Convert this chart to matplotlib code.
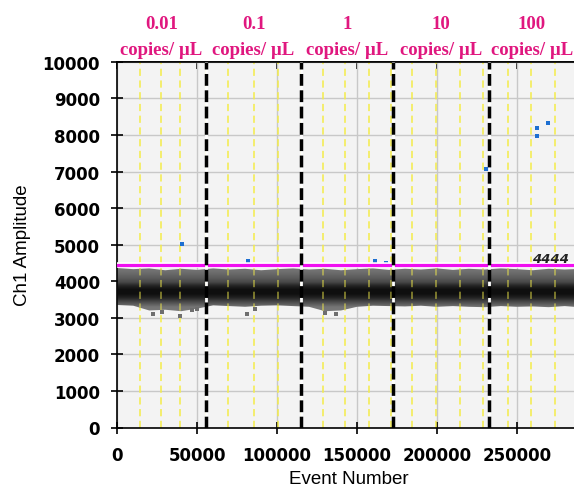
import numpy as np
import matplotlib
matplotlib.use('Agg')
import matplotlib.pyplot as plt
from matplotlib.transforms import blended_transform_factory
import matplotlib.patheffects as pe

# ---------------- data ----------------
conc_labels = ['0.01', '0.1', '1', '10', '100']
unit_label = 'copies/ µL'
group_bounds = [0, 55400, 115100, 172600, 232900, 285800]
well_lines = [14200, 27300, 39200, 55400, 69200, 85400, 100400, 115100, 128600, 142300,
              157300, 171000, 184200, 199200, 214200, 228600, 244200, 259200, 273600]
threshold = 4444
threshold_text = '4444'

band_x = [0, 10000, 20000, 30000, 40000, 50000, 60000, 70000, 80000, 90000, 100000,
          110000, 120000, 130000, 140000, 150000, 160000, 170000, 180000, 190000, 200000,
          210000, 220000, 230000, 240000, 250000, 260000, 270000, 280000, 285800]
band_upper = [4360, 4330, 4350, 4300, 4340, 4310, 4350, 4320, 4340, 4300, 4330,
              4350, 4320, 4340, 4300, 4330, 4350, 4310, 4340, 4320, 4350,
              4310, 4340, 4320, 4350, 4330, 4300, 4340, 4320, 4330]
band_lower = [3350, 3330, 3200, 3220, 3180, 3250, 3340, 3320, 3300, 3330, 3340,
              3320, 3300, 3180, 3200, 3300, 3330, 3320, 3310, 3330, 3300,
              3320, 3300, 3290, 3320, 3300, 3310, 3290, 3320, 3300]

neg_x = [22400, 28000, 39200, 46700, 50000, 81200, 86200, 130000, 137000]
neg_y = [3110, 3164, 3055, 3219, 3247, 3110, 3247, 3120, 3100]

pos_x = [40500, 82000, 161300, 168100, 230500, 232500, 262400, 262400, 269300]
pos_y = [5010, 4560, 4560, 4510, 7070, 7070, 8180, 7970, 8340]

xticks = [0, 50000, 100000, 150000, 200000, 250000]
yticks = list(range(0, 10001, 1000))

# ---------------- figure ----------------
W, H = 574, 489
fig = plt.figure(figsize=(W / 100, H / 100), dpi=100)
ax_l, ax_b, ax_t = 117.3, 428.5, 62.8
ax = fig.add_axes([ax_l / W, (H - ax_b) / H, 1 - ax_l / W, (ax_b - ax_t) / H])
ax.set_facecolor('#f3f3f3')

# well separators (under the band)
for x in well_lines:
    ax.axvline(x, color='#f3ec4a', lw=1.3, ls=(0, (4, 2.5)), alpha=0.85, zorder=1.5)

# band of negative droplets (gradient clipped to band outline)
levels = np.linspace(3000, 4500, 300)
stops_v = [3000, 3300, 3430, 3560, 3660, 3780, 3880, 3980, 4100, 4250, 4500]
stops_g = [0.50, 0.46, 0.30, 0.13, 0.06, 0.06, 0.14, 0.28, 0.36, 0.43, 0.50]
g = np.interp(levels, stops_v, stops_g)
rgb = np.dstack([np.repeat(g[:, None], 2, axis=1)] * 3)
im = ax.imshow(rgb, extent=[group_bounds[0], group_bounds[-1], 3000, 4500], origin='lower',
               aspect='auto', interpolation='bilinear', zorder=2)
poly = ax.fill_between(band_x, band_lower, band_upper, facecolor='none', edgecolor='none', zorder=1)
band_path = poly.get_paths()[0]
im.set_clip_path(band_path, transform=ax.transData)

ax.scatter(neg_x, neg_y, s=10, marker='s', color='#6e6e6e', linewidths=0, zorder=2.5)

# well separators seen through the band
for x in well_lines:
    ln = ax.axvline(x, color='#f3ec4a', lw=1.3, ls=(0, (4, 2.5)), alpha=0.5, zorder=3)
    ln.set_clip_path(band_path, transform=ax.transData)

# positive droplets
ax.scatter(pos_x, pos_y, s=11, marker='s', color='#1d6fd1', linewidths=0, zorder=3.5)

# threshold
ax.axhline(threshold, color='#f00ff0', lw=2.3, zorder=4,
           path_effects=[pe.withStroke(linewidth=4.0, foreground='white')])
ax.text(259500, 4534, threshold_text, fontsize=9.5, fontweight='bold', style='italic',
        color='#222222', ha='left', va='baseline', zorder=6, clip_on=False)

# group separators
for x in group_bounds[1:-1]:
    ax.axvline(x, color='white', lw=2.0, zorder=5)
    ax.axvline(x, color='black', lw=2.5, ls=(0, (3.4, 1.3)), zorder=5.5)

# concentration labels
trans = blended_transform_factory(ax.transData, fig.transFigure)
pink = '#e0177f'
for i, lab in enumerate(conc_labels):
    xc = (group_bounds[i] + group_bounds[i + 1]) / 2
    ax.text(xc, 1 - 29.3 / H, lab, transform=trans, ha='center', va='baseline',
            fontsize=13.5, fontweight='bold', family='Liberation Serif', color=pink, clip_on=False)
    ax.text(xc, 1 - 55 / H, unit_label, transform=trans, ha='center', va='baseline',
            fontsize=13.5, fontweight='bold', family='Liberation Serif', color=pink, clip_on=False)

# axes
ax.set_xlim(group_bounds[0], group_bounds[-1])
ax.set_ylim(0, 10000)
ax.set_xticks(xticks)
ax.set_yticks(yticks)
ax.set_xticklabels([str(v) for v in xticks])
ax.set_yticklabels([str(v) for v in yticks])
ax.grid(True, color='#c8c8c8', lw=1.0, zorder=0)
ax.set_axisbelow(True)
for s in ['left', 'bottom', 'top']:
    ax.spines[s].set_color('black')
    ax.spines[s].set_linewidth(1.2)
ax.spines['right'].set_visible(False)
ax.tick_params(axis='both', direction='inout', length=9, width=1.2, labelsize=12)
ax.tick_params(axis='y', pad=8)
ax.tick_params(axis='x', pad=9)
for lbl in ax.get_xticklabels() + ax.get_yticklabels():
    lbl.set_fontweight('bold')

sec = ax.secondary_xaxis('top')
sec.set_xticks(xticks)
sec.tick_params(direction='in', length=5, width=1.2, labeltop=False)
sec.spines['top'].set_linewidth(1.2)

fig.text(22.5 / W, 1 - 245.6 / H, 'Ch1 Amplitude', rotation=90, ha='center', va='center',
         fontsize=13.5, family='Liberation Sans')
fig.text(349 / W, 4.5 / H, 'Event Number', ha='center', va='baseline',
         fontsize=13.5, family='Liberation Sans')

fig.savefig('out.png', dpi=100)
